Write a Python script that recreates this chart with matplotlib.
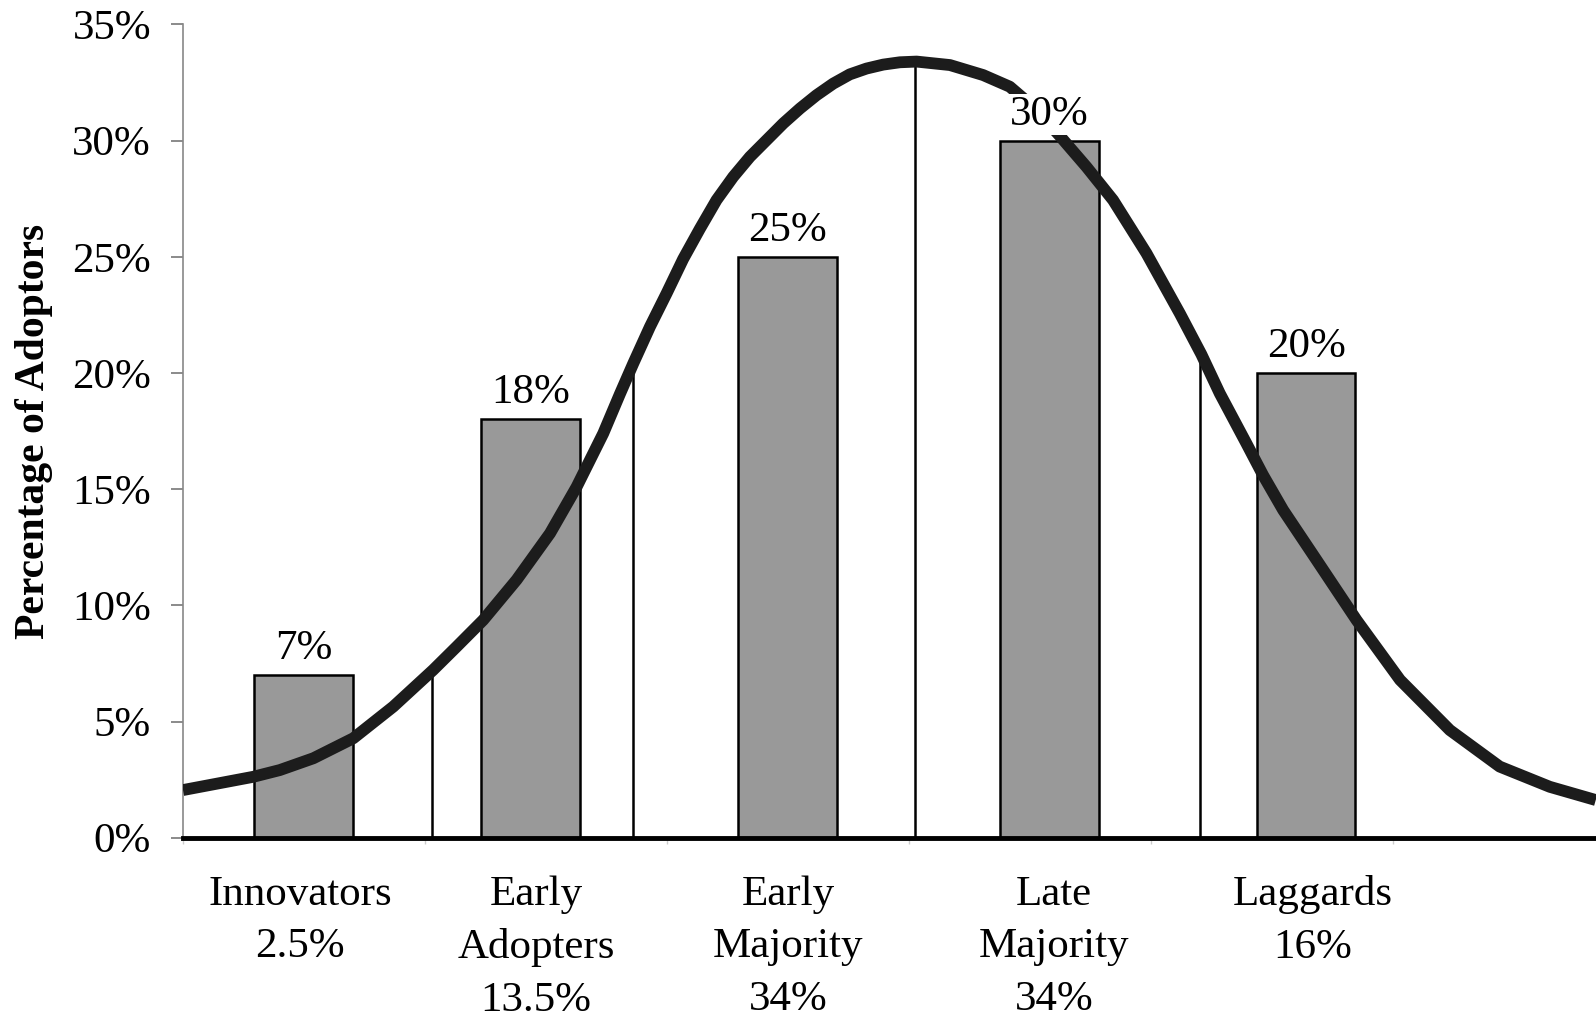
"""Adopter categories: share of adopters per group with the diffusion curve on top."""

import matplotlib

matplotlib.use("Agg")
import matplotlib.pyplot as plt

plt.rcParams["font.family"] = ["Liberation Serif", "DejaVu Serif"]

# bar groups
categories = ["Innovators", "Early\nAdopters", "Early\nMajority", "Late\nMajority", "Laggards"]
shares = ["2.5%", "13.5%", "34%", "34%", "16%"]
adopters_pct = [7, 18, 25, 30, 20]

# bar centres and label centres along the x axis (tick spacing = 1)
bar_x = [0.498, 1.436, 2.499, 3.582, 4.642]
label_x = [0.484, 1.46, 2.50, 3.60, 4.67]

# diffusion curve, read along its length
curve_x = [0.0, 0.29, 0.40, 0.539, 0.704, 0.869, 1.034, 1.131, 1.241, 1.379,
           1.517, 1.627, 1.737, 1.806, 1.861, 1.93, 1.999, 2.067, 2.136, 2.205,
           2.274, 2.343, 2.412, 2.481, 2.55, 2.618, 2.687, 2.756, 2.825, 2.894,
           2.963, 3.032, 3.17, 3.307, 3.417, 3.52, 3.624, 3.734, 3.844, 3.982,
           4.12, 4.209, 4.285, 4.395, 4.464, 4.547, 4.685, 4.85, 5.03, 5.236,
           5.442, 5.649, 5.839]
curve_y = [2.05, 2.62, 2.91, 3.42, 4.28, 5.64, 7.22, 8.22, 9.37, 11.1,
           13.1, 15.1, 17.4, 19.1, 20.41, 21.99, 23.43, 24.9, 26.2, 27.44,
           28.44, 29.3, 30.02, 30.74, 31.38, 31.95, 32.45, 32.85, 33.1, 33.27,
           33.37, 33.4, 33.25, 32.82, 32.32, 31.4, 30.2, 28.87, 27.44, 25.15,
           22.56, 20.8, 19.12, 16.97, 15.6, 14.1, 11.95, 9.37, 6.79, 4.63,
           3.06, 2.19, 1.62]

# vertical dividers between groups, up to the curve
divider_x = [1.030, 1.861, 3.027, 4.205]
divider_top = [7.36, 20.4, 33.4, 20.7]

W, H = 1596, 1018
fig = plt.figure(figsize=(W / 100, H / 100), dpi=100)
ax = fig.add_axes([183 / W, 180.3 / H, 1 - 183 / W, 813.3 / H])

ax.bar(bar_x, adopters_pct, width=0.408, color="#999999", edgecolor="black",
       linewidth=1.8, zorder=2)
ax.vlines(divider_x, 0, divider_top, color="black", linewidth=1.8, zorder=3)
ax.plot(curve_x, curve_y, color="#1c1c1c", linewidth=8.5,
        solid_capstyle="butt", solid_joinstyle="round", zorder=4)

for x, v in zip(bar_x, adopters_pct):
    ax.annotate(f"{v}%", xy=(x, v), xytext=(0, 5), textcoords="offset points",
                ha="center", va="bottom", fontsize=31, zorder=6,
                bbox=dict(facecolor="white", edgecolor="none", pad=1))

for x, name, share in zip(label_x, categories, shares):
    ax.annotate(f"{name}\n{share}", xy=(x, 0), xycoords=("data", "axes fraction"),
                xytext=(0, -27), textcoords="offset points", ha="center", va="top",
                fontsize=31, linespacing=1.48, annotation_clip=False)

ax.set_xlim(0, 5.84)
ax.set_ylim(0, 35)
ax.set_yticks(range(0, 36, 5))
ax.set_yticklabels([f"{t}%" for t in range(0, 36, 5)], fontsize=31)
ax.set_xticks(range(0, 6))
ax.set_xticklabels([])
ax.tick_params(axis="y", direction="out", length=9, width=1.2, color="#777777", pad=14)
ax.tick_params(axis="x", direction="out", length=4, width=1, color="#cccccc")

ax.set_ylabel("Percentage of Adoptors", fontsize=30, fontweight="bold", labelpad=14)

for side in ("top", "right"):
    ax.spines[side].set_visible(False)
ax.spines["left"].set_color("#888888")
ax.spines["left"].set_linewidth(1.2)
ax.spines["bottom"].set_color("black")
ax.spines["bottom"].set_linewidth(3.5)
ax.spines["bottom"].set_zorder(5)

fig.savefig("out.png", dpi=100, facecolor="white")
